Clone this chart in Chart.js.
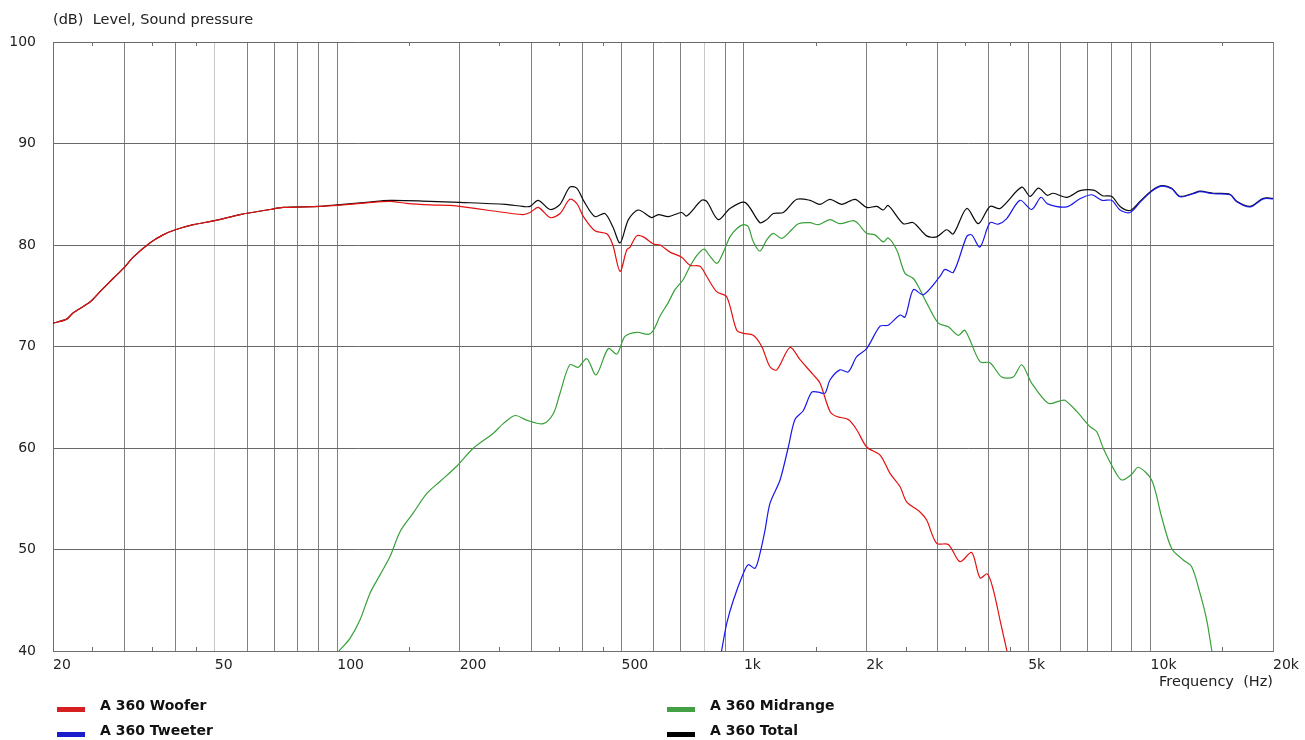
<!DOCTYPE html>
<html>
<head>
<meta charset="utf-8">
<script src="https://cdn.jsdelivr.net/npm/chart.js@4.4.0/dist/chart.umd.min.js"></script>
<style>
  html, body { margin: 0; padding: 0; background: #fff; }
  #wrap { width: 1305px; height: 740px; }
</style>
</head>
<body>
<div id="wrap"><canvas id="spl" width="1305" height="740"></canvas></div>
<script>
// axis grid and labels
const gridHz = [20, 30, 40, 50, 60, 70, 80, 90, 100, 200, 300, 400, 500, 600, 700, 800, 900,
    1000, 2000, 3000, 4000, 5000, 6000, 7000, 8000, 9000, 10000, 20000];
const minorHz = [25, 35, 45, 150, 250, 350, 450, 1500, 2500, 3500, 4500, 15000];
const hzLabels = { 20: '20', 50: '50', 100: '100', 200: '200', 500: '500', 1000: '1k', 2000: '2k', 5000: '5k', 10000: '10k', 20000: '20k' };
const dbTicks = [40, 50, 60, 70, 80, 90, 100];

// A 360 Woofer
const wooferHz = [20, 21.6, 22.4, 24.7, 26.1, 28.1, 29.8, 31.5, 34.6, 37.3, 40, 44.3, 50, 57.7, 68.4, 73.6, 90.7, 100, 118, 135,
    148, 169, 189, 200, 237, 286, 298, 312, 334, 353, 373, 388, 403, 430, 460, 476, 496, 515, 525, 545,
    566, 599, 622, 658, 703, 737, 780, 810, 857, 907, 960, 997, 1054, 1106, 1159, 1204, 1298, 1374, 1482, 1538,
    1628, 1691, 1806, 1894, 2004, 2162, 2287, 2420, 2513, 2710, 2814, 2978, 3182, 3399, 3631, 3806, 3968, 4106, 4266, 4428, 4600];
const wooferDb = [72.3, 72.7, 73.3, 74.4, 75.4, 76.7, 77.7, 78.8, 80.2, 81.0, 81.5, 82.0, 82.4, 83.0, 83.5, 83.7, 83.8, 83.9, 84.15, 84.3,
    84.1, 83.95, 83.9, 83.8, 83.4, 83.0, 83.2, 83.7, 82.7, 83.1, 84.5, 84.1, 82.8, 81.4, 81.1, 80.0, 77.4, 79.5, 79.8, 80.9,
    80.8, 80.1, 80.0, 79.3, 78.8, 78.0, 77.9, 76.9, 75.4, 74.9, 71.6, 71.3, 71.1, 70.0, 68.0, 67.7, 69.9, 68.7, 67.2, 66.4,
    63.6, 63.1, 62.8, 61.8, 60.1, 59.3, 57.5, 56.2, 54.7, 53.7, 52.9, 50.6, 50.5, 48.8, 49.7, 47.2, 47.6, 46.0, 43.0, 40.1, 37.0];

// A 360 Tweeter
const tweeterHz = [857, 882, 907, 942, 997, 1025, 1065, 1095, 1127, 1159, 1227, 1286, 1335, 1400, 1468, 1524, 1583, 1628, 1722, 1806,
    1894, 2004, 2162, 2264, 2420, 2490, 2610, 2762, 3034, 3122, 3273, 3532, 3631, 3806, 4028, 4222, 4428, 4774, 5100, 5378,
    5580, 6220, 6706, 7164, 7600, 8022, 8412, 8900, 9418, 10060, 10646, 11268, 11810, 12736, 13228, 14266, 15678, 16284, 17558, 18928, 20000];
const tweeterDb = [37.5, 40.1, 42.7, 45.0, 47.65, 48.5, 48.15, 49.6, 51.9, 54.55, 56.85, 60.1, 62.8, 63.7, 65.5, 65.5, 65.4, 66.7, 67.7, 67.5,
    69.0, 69.8, 72.0, 72.1, 73.1, 72.9, 75.6, 75.1, 76.9, 77.6, 77.3, 80.85, 81.0, 79.8, 82.2, 82.05, 82.6, 84.4, 83.5, 84.7,
    84.05, 83.75, 84.55, 84.95, 84.4, 84.4, 83.45, 83.2, 84.2, 85.3, 85.8, 85.55, 84.75, 85.05, 85.25, 85.05, 84.95, 84.25, 83.75, 84.55, 84.55];

// A 360 Midrange
const midHz = [96, 101.5, 107.5, 113.7, 120.4, 127.4, 134.8, 142.7, 153.8, 165.9, 178.9, 196.7, 216, 242, 256, 274, 292, 321, 340, 353,
    373, 391, 411, 433, 464, 487, 510, 545, 582, 599, 622, 651, 677, 708, 737, 767, 798, 825, 859, 888,
    924, 960, 997, 1025, 1054, 1095, 1138, 1181, 1238, 1310, 1361, 1454, 1524, 1628, 1722, 1858, 1910, 2004, 2100, 2202,
    2264, 2376, 2490, 2610, 2710, 2814, 3006, 3182, 3366, 3496, 3806, 4028, 4304, 4596, 4820, 5100, 5604, 5988, 6158, 6582,
    7096, 7372, 7650, 8176, 8492, 8984, 9330, 10060, 10646, 11268, 12032, 12618, 13228, 13742, 14136, 14600];
const midDb = [38.9, 40.1, 41.25, 43.05, 45.7, 47.5, 49.3, 51.75, 53.6, 55.5, 56.7, 58.2, 59.97, 61.45, 62.4, 63.2, 62.75, 62.4, 63.4, 65.4,
    68.2, 67.95, 68.8, 67.2, 69.8, 69.25, 71.0, 71.4, 71.2, 71.6, 73.0, 74.3, 75.6, 76.55, 77.9, 79.0, 79.6, 78.9, 78.2, 79.2,
    80.8, 81.6, 82.0, 81.8, 80.35, 79.4, 80.5, 81.15, 80.65, 81.5, 82.1, 82.2, 82.0, 82.5, 82.1, 82.4, 82.1, 81.15, 81.0, 80.3,
    80.7, 79.5, 77.2, 76.7, 75.6, 74.3, 72.3, 71.95, 71.1, 71.6, 68.5, 68.4, 67.0, 67.0, 68.2, 66.4, 64.4, 64.65, 64.7, 63.6,
    62.1, 61.6, 59.97, 57.7, 56.85, 57.4, 58.1, 56.85, 53.2, 50.1, 48.97, 48.3, 45.7, 43.05, 40.1, 37.0];

// A 360 Total
const totalHz = [20, 21.6, 22.4, 24.7, 26.1, 28.1, 29.8, 31.5, 34.6, 37.3, 40, 44.3, 50, 57.7, 68.4, 73.6, 90.7, 100, 118, 135,
    169, 200, 260, 286, 298, 312, 334, 353, 373, 388, 403, 430, 455, 476, 496, 520, 550, 593, 616, 652,
    703, 723, 787, 810, 865, 924, 1006, 1095, 1138, 1181, 1250, 1349, 1454, 1538, 1628, 1740, 1876, 2004, 2122, 2202,
    2264, 2466, 2610, 2814, 2978, 3152, 3273, 3532, 3770, 4028, 4266, 4820, 5052, 5300, 5570, 5764, 6220, 6706, 7250, 7620,
    8022, 8412, 8900, 9418, 10060, 10646, 11268, 11810, 12736, 13228, 14266, 15678, 16284, 17558, 18928, 20000];
const totalDb = [72.3, 72.7, 73.3, 74.4, 75.4, 76.7, 77.7, 78.8, 80.2, 81.0, 81.5, 82.0, 82.4, 83.0, 83.5, 83.7, 83.8, 83.95, 84.2, 84.4,
    84.3, 84.2, 84.0, 83.8, 83.8, 84.4, 83.5, 84.0, 85.7, 85.6, 84.4, 82.8, 83.1, 81.8, 80.2, 82.5, 83.45, 82.7, 83.0, 82.8,
    83.2, 82.85, 84.4, 84.3, 82.5, 83.6, 84.2, 82.2, 82.5, 83.1, 83.2, 84.5, 84.4, 84.0, 84.5, 84.0, 84.5, 83.7, 83.8, 83.45,
    83.9, 82.1, 82.2, 80.9, 80.8, 81.5, 81.1, 83.6, 82.1, 83.8, 83.6, 85.7, 84.8, 85.6, 84.9, 85.1, 84.7, 85.35, 85.4, 84.85,
    84.8, 83.8, 83.4, 84.3, 85.35, 85.85, 85.6, 84.8, 85.1, 85.3, 85.1, 85.0, 84.3, 83.8, 84.6, 84.6];

const series = [
    { label: 'A 360 Woofer', hz: wooferHz, db: wooferDb, color: 'rgb(228,16,16)', key: 'rgb(214,32,32)' },
    { label: 'A 360 Tweeter', hz: tweeterHz, db: tweeterDb, color: 'rgb(24,24,235)', key: 'rgb(28,28,205)' },
    { label: 'A 360 Midrange', hz: midHz, db: midDb, color: 'rgb(56,160,56)', key: 'rgb(68,160,68)' },
    { label: 'A 360 Total', hz: totalHz, db: totalDb, color: 'rgb(10,10,10)', key: 'rgb(0,0,0)' }
];

const FONT = 'DejaVu Sans';

const decor = {
    id: 'decor',
    beforeDraw(chart) {
        const c = chart.ctx;
        c.save();
        c.fillStyle = '#fff';
        c.fillRect(0, 0, chart.width, chart.height);
        c.restore();
    },
    afterDraw(chart) {
        const c = chart.ctx, a = chart.chartArea, xs = chart.scales.x;
        c.save();
        // small ticks on top and bottom edge
        c.strokeStyle = 'rgb(110,110,110)';
        c.lineWidth = 1;
        minorHz.forEach(f => {
            const px = Math.round(xs.getPixelForValue(f)) + 0.5;
            c.beginPath();
            c.moveTo(px, a.bottom);
            c.lineTo(px, a.bottom - 4);
            c.moveTo(px, a.top);
            c.lineTo(px, a.top + 4);
            c.stroke();
        });
        c.fillStyle = '#222';
        c.font = '14.5px "' + FONT + '"';
        c.textBaseline = 'middle';
        c.textAlign = 'left';
        c.fillText('(dB)  Level, Sound pressure', a.left, 20);
        c.textAlign = 'right';
        c.fillText('Frequency  (Hz)', a.right, 682);

        // legend, two columns
        const cols = [57, 667];
        c.font = 'bold 14px "' + FONT + '"';
        c.textAlign = 'left';
        const order = [0, 2, 1, 3];
        order.forEach((si, i) => {
            const s = series[si];
            const x = cols[i % 2];
            const y = i < 2 ? 706 : 731;
            c.fillStyle = s.key;
            c.fillRect(x, y + 1, 28, 5);
            c.fillStyle = '#111';
            c.fillText(s.label, x + 43, y);
        });
        c.restore();
    }
};

function gridColor(ctx) {
    const v = ctx.tick && ctx.tick.value;
    if (v === 50 || v === 800) return 'rgb(200,200,200)';
    return 'rgb(128,128,128)';
}

new Chart(document.getElementById('spl'), {
    type: 'line',
    data: {
        datasets: series.map(s => ({
            label: s.label,
            data: s.hz.map((f, i) => ({ x: f, y: s.db[i] })),
            borderColor: s.color,
            borderWidth: 1.2,
            pointRadius: 0,
            tension: 0.3,
            fill: false
        }))
    },
    options: {
        responsive: false,
        animation: false,
        devicePixelRatio: 1,
        layout: { padding: { top: 42, right: 32, left: 0, bottom: 0 } },
        plugins: { legend: { display: false }, tooltip: { enabled: false } },
        scales: {
            x: {
                type: 'logarithmic',
                min: 20,
                max: 20000,
                afterBuildTicks: s => { s.ticks = gridHz.map(v => ({ value: v })); },
                afterFit: s => { s.height = 89; },
                grid: { color: gridColor, lineWidth: 1, drawTicks: false },
                border: { color: 'rgb(110,110,110)' },
                ticks: {
                    autoSkip: false,
                    maxRotation: 0,
                    align: 'start',
                    padding: 6,
                    color: '#222',
                    font: { family: FONT, size: 14 },
                    callback: v => hzLabels[v] || ''
                }
            },
            y: {
                min: 40,
                max: 100,
                afterBuildTicks: s => { s.ticks = dbTicks.map(v => ({ value: v })); },
                afterFit: s => { s.width = 53; },
                grid: { color: 'rgb(105,105,105)', lineWidth: 1, drawTicks: false },
                border: { color: 'rgb(110,110,110)' },
                ticks: {
                    padding: 17,
                    color: '#222',
                    font: { family: FONT, size: 14 }
                }
            }
        }
    },
    plugins: [decor]
});
</script>
</body>
</html>
